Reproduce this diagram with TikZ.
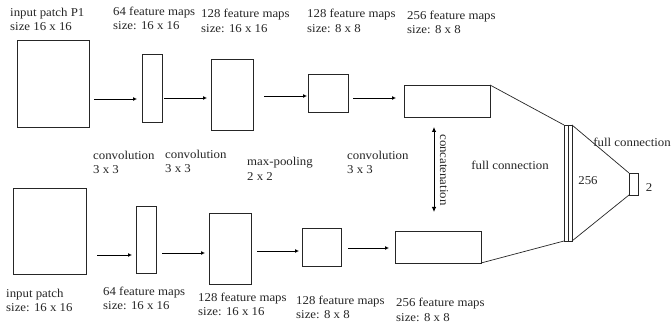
\documentclass[tikz,border=0pt]{standalone}
\usepackage{fontspec}
\setmainfont{Liberation Serif}[FakeStretch=1.07]
\usetikzlibrary{arrows.meta}
\begin{document}
\begin{tikzpicture}[x=1pt,y=-1pt,
  box/.style={draw=black!85,line width=0.9pt,inner sep=0pt,outer sep=0pt},
  arr/.style={draw=black,line width=0.8pt,-{Latex[length=4pt,width=4pt]}},
  ln/.style={draw=black!85,line width=0.7pt},
  lbl/.style={text=black!85,inner sep=0pt,align=left,font=\fontsize{12}{14.5}\selectfont},
  txt/.style={text=black!85,inner sep=0pt,font=\fontsize{12}{14.5}\selectfont}]
\useasboundingbox[fill=white] (0,0) rectangle (672,331);
% top row boxes
\node[box,minimum width=72pt,minimum height=87pt] (tin) at (53,83.5) {};
\node[box,minimum width=20pt,minimum height=68pt] (t64) at (152,88) {};
\node[box,minimum width=42pt,minimum height=71pt] (t128) at (232,94.5) {};
\node[box,minimum width=40pt,minimum height=38pt] (t128s) at (328,93) {};
\node[box,minimum width=86pt,minimum height=32pt] (t256) at (447,101) {};
% bottom row boxes
\node[box,minimum width=73pt,minimum height=86pt] (bin) at (49.5,231) {};
\node[box,minimum width=20pt,minimum height=67pt] (b64) at (146,239.5) {};
\node[box,minimum width=42pt,minimum height=71pt] (b128) at (230,248.5) {};
\node[box,minimum width=39pt,minimum height=38pt] (b128s) at (321.5,247) {};
\node[box,minimum width=86pt,minimum height=32pt] (b256) at (438,247) {};
% full connection layers
\node[box,minimum width=8pt,minimum height=116pt] (fc) at (568,183) {};
\draw[ln] (fc.north) -- (fc.south);
\node[box,minimum width=9pt,minimum height=22pt] (out) at (633.5,184) {};
% top arrows
\draw[arr] ([xshift=5pt,yshift=-15.5pt]tin.east) -- ([xshift=-5pt,yshift=-11pt]t64.west);
\draw[arr] ([xshift=2pt,yshift=-10pt]t64.east) -- ([xshift=-4pt,yshift=-3.5pt]t128.west);
\draw[arr] ([xshift=11pt,yshift=-1.5pt]t128.east) -- ([xshift=-1pt,yshift=-3pt]t128s.west);
\draw[arr] ([xshift=5pt,yshift=-5pt]t128s.east) -- ([xshift=-8pt,yshift=3pt]t256.west);
% bottom arrows
\draw[arr] ([xshift=11pt,yshift=-24pt]bin.east) -- ([xshift=-4pt,yshift=-15.5pt]b64.west);
\draw[arr] ([xshift=6pt,yshift=-13.5pt]b64.east) -- ([xshift=-4pt,yshift=-4.5pt]b128.west);
\draw[arr] ([xshift=6pt,yshift=-2.5pt]b128.east) -- ([xshift=-3pt,yshift=-4pt]b128s.west);
\draw[arr] ([xshift=7pt,yshift=-1pt]b128s.east) -- ([xshift=-6pt,yshift=-1pt]b256.west);
% full connection lines
\draw[ln] (t256.north east) -- (fc.north west);
\draw[ln] (b256.south east) -- (fc.south west);
\draw[ln] (fc.north east) -- (out.north west);
\draw[ln] (out.south west) -- (fc.south east);
% concatenation
\coordinate (ct) at (434,127);
\coordinate (cb) at (434,212);
\draw[draw=black,line width=0.8pt,{Latex[length=5pt,width=4.5pt]}-{Latex[length=5pt,width=4.5pt]}] (ct) -- (cb);
\node[txt,rotate=-90] (concat) at (444,170) {concatenation};
% top labels
\node[lbl,anchor=west] (l1) at (10,19.5) {input patch P1\\size 16 x 16};
\node[lbl,anchor=west] (l2) at (113,18.5) {64 feature maps\\size: 16 x 16};
\node[lbl,anchor=west] (l3) at (201,21) {128 feature maps\\size: 16 x 16};
\node[lbl,anchor=west] (l4) at (307,21) {128 feature maps\\size: 8 x 8};
\node[lbl,anchor=west] (l5) at (407,22.5) {256 feature maps\\size: 8 x 8};
% middle labels
\node[lbl,anchor=west] (m1) at (93,162.5) {convolution\\3 x 3};
\node[lbl,anchor=west] (m2) at (165,161.5) {convolution\\3 x 3};
\node[lbl,anchor=west] (m3) at (247,169) {max-pooling\\2 x 2};
\node[lbl,anchor=west] (m4) at (347,162.5) {convolution\\3 x 3};
% bottom labels
\node[lbl,anchor=west] (n1) at (6,300.5) {input patch\\size: 16 x 16};
\node[lbl,anchor=west] (n2) at (103,298.5) {64 feature maps\\size: 16 x 16};
\node[lbl,anchor=west] (n3) at (198,304.5) {128 feature maps\\size: 16 x 16};
\node[lbl,anchor=west] (n4) at (296,307.5) {128 feature maps\\size: 8 x 8};
\node[lbl,anchor=west] (n5) at (396,310) {256 feature maps\\size: 8 x 8};
% other labels
\node[txt] (fcl) at (510,165) {full connection};
\node[txt,anchor=east] (fcl2) at (671,142) {full connection};
\node[txt] (n256) at (588,181) {256};
\node[txt] (n2o) at (649,188) {2};
\end{tikzpicture}
\end{document}
